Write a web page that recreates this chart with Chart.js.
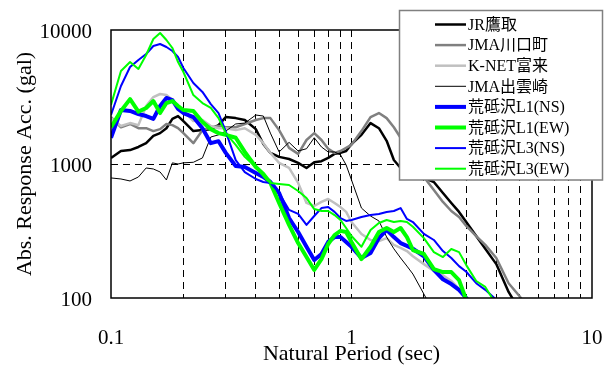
<!DOCTYPE html>
<html>
<head>
<meta charset="utf-8">
<script src="https://cdn.jsdelivr.net/npm/chart.js@4"></script>
<style>
html,body{margin:0;padding:0;background:#fff;}
#wrap{width:613px;height:367px;position:relative;}
</style>
</head>
<body>
<div id="wrap"><canvas id="c" width="613" height="367"></canvas></div>
<script>
// ---- data ----
const periods = [0.10,0.11,0.12,0.13,0.14,0.15,0.16,0.17,0.18,0.19,0.20,
  0.22,0.24,0.26,0.28,0.30,0.33,0.36,0.40,0.43,0.46,0.50,
  0.55,0.60,0.65,0.70,0.75,0.80,0.85,0.90,0.95,
  1.0,1.1,1.2,1.3,1.4,1.5,1.6,1.7,1.8,
  2.0,2.2,2.4,2.6,2.8,3.0,3.3,3.6,4.0,4.5,5.0,5.5,6.0];

const seriesLabels = ['JR鷹取','JMA川口町','K-NET富来','JMA出雲崎',
  '荒砥沢L1(NS)','荒砥沢L1(EW)','荒砥沢L3(NS)','荒砥沢L3(EW)'];

const jrTakatori = [1110,1250,1270,1340,1430,1620,1700,1850,2170,2280,2090,
  1760,1790,1820,1950,2240,2200,2130,1820,1410,1210,1130,
  1090,1020,934,1030,1050,1110,1190,1210,1250,
  1410,1650,2020,1850,1490,1070,934,887,842,
  787,734,608,512,439,369,290,233,179,111,81,null,null];

const jmaKawaguchi = [2240,1880,1990,1850,1850,1760,1820,1990,1950,1850,1700,
  1430,1790,1880,1920,1880,1880,1990,2130,2200,2200,1790,
  1320,1190,1510,1700,1510,1300,1210,1250,1320,
  1390,1760,2240,2400,2200,1880,1570,1270,1030,
  800,640,521,446,402,345,290,249,199,129,103,81,null];

const knetTogi = [2200,1920,2020,1950,2710,3160,3330,3270,3000,2670,2490,
  2090,2130,1920,1850,1850,1790,1850,1650,1430,1210,1020,
  934,722,512,486,521,548,512,477,439,
  369,300,271,266,280,249,237,224,205,
  179,159,148,134,117,100,81,null,null,null,null,null,null];

const jmaIzumozaki = [787,773,747,800,934,918,872,760,1020,1000,1020,
  1030,1110,1590,1650,1760,1990,2020,2320,2280,1700,1230,
  1450,1250,1300,1570,1340,1230,1230,1170,983,
  760,469,409,376,285,233,199,173,151,
  107,78,null,null,null,null,null,null,null,null,null,null,null];

const aratoL1NS = [1570,2530,2490,2360,2280,2170,2710,3110,3000,2580,2400,
  2240,1850,1430,1480,1210,966,950,857,800,734,608,
  395,311,241,192,213,262,285,285,262,
  241,199,217,280,322,285,257,245,233,
  205,162,138,127,115,100,81,null,null,null,null,null,null];

const aratoL1EW = [1880,2490,3050,2460,2620,2950,2400,2850,2950,2710,2530,
  2490,2060,1820,1700,1650,1570,1230,950,842,722,512,
  351,257,202,162,195,253,295,317,311,
  262,195,241,311,333,311,333,285,228,
  213,164,156,156,136,97,null,null,null,null,null,null,null];

const aratoL3NS = [2320,3820,5290,5970,6620,7600,7860,7470,6970,6290,5210,
  4020,3450,2800,2400,1750,1070,871,773,734,722,608,
  454,424,351,409,469,477,439,395,376,
  382,402,416,424,439,446,469,389,369,
  301,271,224,199,173,157,129,115,97,null,null,null,null];

const aratoL3EW = [2760,4940,5770,5120,6510,8570,9500,8420,7340,5770,4860,
  3270,2850,2620,2200,1700,1390,1130,950,814,722,710,
  697,629,558,461,446,446,416,382,333,
  290,241,322,363,382,369,376,369,340,
  280,220,202,232,220,176,134,121,89,null,null,null,null];

const xTicks = [0.1,0.2,0.3,0.4,0.5,0.6,0.7,0.8,0.9,1,2,3,4,5,6,7,8,9,10];
const xTickLabels = {'0.1':'0.1','1':'1','10':'10'};
const yTicks = [100,1000,10000];

// ---- styles ----
const styles = [
  {color:'#000000', width:2.5},
  {color:'#808080', width:2.5},
  {color:'#c0c0c0', width:2.5},
  {color:'#000000', width:1},
  {color:'#0000ff', width:4},
  {color:'#00ff00', width:4},
  {color:'#0000ff', width:2},
  {color:'#00ff00', width:2}
];
const allSeries = [jrTakatori, jmaKawaguchi, knetTogi, jmaIzumozaki,
  aratoL1NS, aratoL1EW, aratoL3NS, aratoL3EW];

Chart.defaults.font.family = '"Liberation Serif", "Noto Sans CJK JP", serif';
Chart.defaults.color = '#000';

const datasets = allSeries.map((vals, i) => ({
  label: seriesLabels[i],
  data: periods.map((p, j) => ({x: p, y: vals[j]})).filter(d => d.y !== null),
  borderColor: styles[i].color,
  borderWidth: styles[i].width,
  pointRadius: 0,
  tension: 0,
  fill: false,
  clip: 0,
  order: -i,
  borderJoinStyle: 'round'
}));

const framePlugin = {
  id: 'frameAndLegend',
  afterDatasetsDraw(chart) {
    const {ctx, chartArea: a} = chart;
    ctx.save();
    ctx.setLineDash([]);
    ctx.strokeStyle = '#000';
    ctx.lineWidth = 1.5;
    ctx.strokeRect(a.left, a.top, a.right - a.left, a.bottom - a.top);
    ctx.restore();
  },
  afterDraw(chart) {
    const ctx = chart.ctx;
    ctx.save();
    ctx.setLineDash([]);
    ctx.fillStyle = '#fff';
    ctx.fillRect(399.5, 10.5, 203, 169.5);
    ctx.strokeStyle = '#808080';
    ctx.lineWidth = 1.5;
    ctx.strokeRect(399.5, 10.5, 203, 169.5);
    ctx.font = '16px "Liberation Serif", "Noto Sans CJK JP", serif';
    ctx.textBaseline = 'middle';
    ctx.textAlign = 'left';
    chart.data.datasets.forEach((ds, i) => {
      const y = 24.5 + i * 20.6;
      ctx.beginPath();
      ctx.strokeStyle = ds.borderColor;
      ctx.lineWidth = ds.borderWidth;
      ctx.moveTo(435, y);
      ctx.lineTo(466, y);
      ctx.stroke();
      ctx.fillStyle = '#000';
      ctx.fillText(ds.label, 468, y + 1);
    });
    ctx.restore();
  }
};

new Chart(document.getElementById('c'), {
  type: 'line',
  data: {datasets},
  options: {
    responsive: false,
    animation: false,
    devicePixelRatio: 1,
    layout: {padding: {top: 30, right: 21, bottom: 0, left: 0}},
    plugins: {legend: {display: false}, tooltip: {enabled: false}},
    scales: {
      x: {
        type: 'logarithmic', min: 0.1, max: 10, position: 'bottom',
        afterBuildTicks: s => { s.ticks = xTicks.map(v => ({value: v})); },
        afterFit: s => { s.height = 69; s.paddingLeft = 0; s.paddingRight = 0; },
        ticks: {autoSkip: false, maxRotation: 0, minRotation: 0, padding: 28, color: '#000',
          font: {size: 21}, callback: v => (xTickLabels[String(v)] !== undefined ? xTickLabels[String(v)] : '')},
        grid: {drawTicks: false, lineWidth: 1,
          color: c => (c.tick && (c.tick.value === 0.1 || c.tick.value === 10)) ? 'rgba(0,0,0,0)' : '#000'},
        border: {display: false, dash: [7, 5]},
        title: {display: true, text: 'Natural Period (sec)', color: '#000', font: {size: 22}, padding: {top: 0, bottom: 0}}
      },
      y: {
        type: 'logarithmic', min: 100, max: 10000,
        afterBuildTicks: s => { s.ticks = yTicks.map(v => ({value: v})); },
        afterFit: s => { s.width = 111; s.paddingTop = 0; s.paddingBottom = 0; },
        ticks: {padding: 19, color: '#000', font: {size: 21}, labelOffset: 2, callback: v => String(v)},
        grid: {drawTicks: false, lineWidth: 1,
          color: c => (c.tick && c.tick.value === 1000) ? '#000' : 'rgba(0,0,0,0)'},
        border: {display: false, dash: [7, 5]},
        title: {display: true, text: 'Abs. Response Acc. (gal)', color: '#000', font: {size: 22}, padding: {top: 12, bottom: 0}}
      }
    }
  },
  plugins: [framePlugin]
});
</script>
</body>
</html>
